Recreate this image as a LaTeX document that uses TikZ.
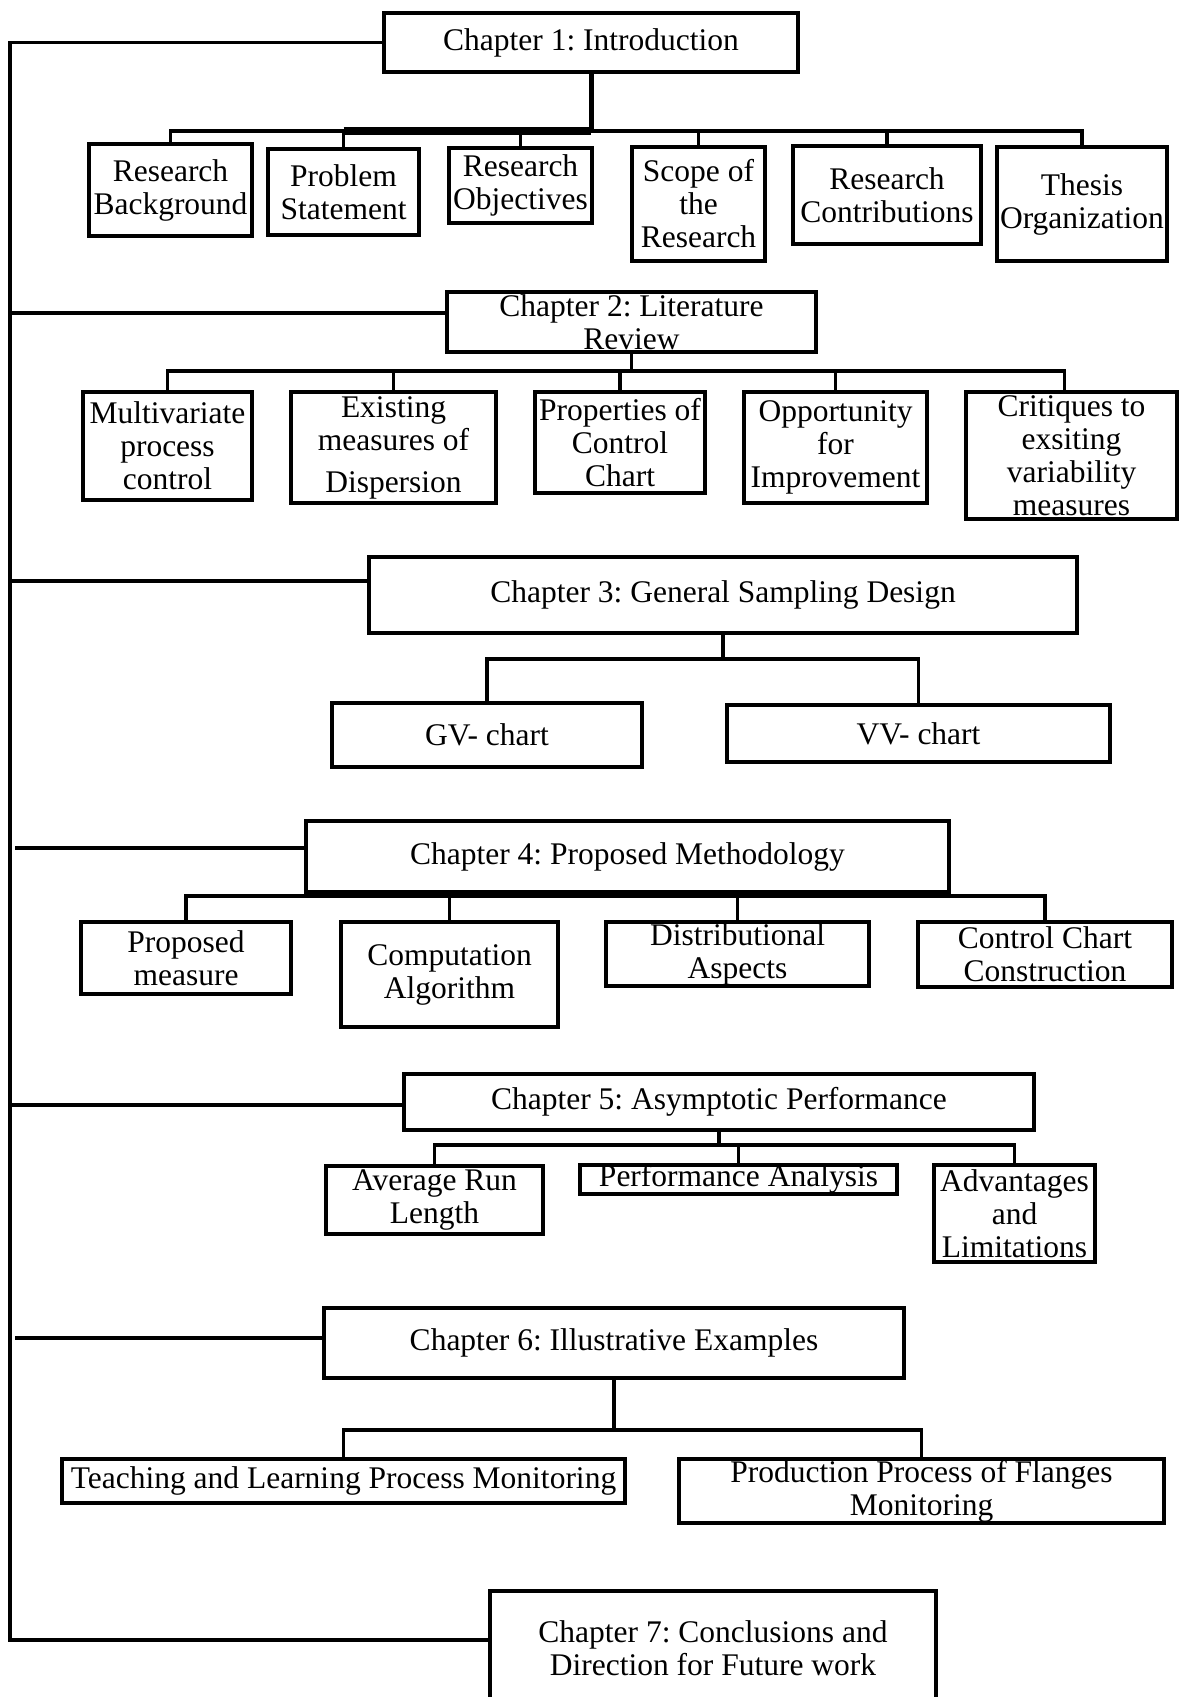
\documentclass[tikz,border=0pt]{standalone}
\usepackage{fontspec}
\setmainfont{Liberation Serif}
\frenchspacing
\begin{document}
\begin{tikzpicture}[x=1pt,y=-1pt,
  box/.style={draw, line width=4pt, inner sep=0pt, outer sep=0pt, align=center,
    font=\fontsize{31.5}{33}\selectfont},
  conn/.style={line width=3.5pt}]
\useasboundingbox (0,0) rectangle (1180,1697);
\clip (0,0) rectangle (1180,1697);
\fill[white] (0,0) rectangle (1180,1697);

% Chapter 1
\node[box, minimum width=414pt, minimum height=59pt] (ch1) at (591,42.5) {Chapter 1: Introduction};
\node[box, minimum width=163pt, minimum height=92pt] (c11) at (170.5,190) {Research\\Background};
\node[box, minimum width=151pt, minimum height=86pt] (c12) at (343.5,192) {Problem\\Statement};
\node[box, minimum width=143pt, minimum height=75pt] (c13) at (520.5,185.5) {Research\\Objectives};
\node[box, minimum width=133pt, minimum height=114pt] (c14) at (698.5,204) {Scope of\\the\\Research};
\node[box, minimum width=188pt, minimum height=98pt] (c15) at (887,195) {Research\\Contributions};
\node[box, minimum width=170pt, minimum height=114pt] (c16) at (1082,204) {Thesis\\Organization};

% Chapter 2
\node[box, minimum width=369pt, minimum height=60pt] (ch2) at (631.5,322) {Chapter 2: Literature\\Review};
\node[box, minimum width=169pt, minimum height=108pt] (c21) at (167.5,446) {Multivariate\\process\\control};
\node[box, minimum width=205pt, minimum height=111pt] (c22) at (393.5,447.5) {Existing\\measures of\\[9pt]Dispersion};
\node[box, minimum width=170pt, minimum height=101pt] (c23) at (620,442.5) {Properties of\\Control\\Chart};
\node[box, minimum width=183pt, minimum height=111pt] (c24) at (835.5,447.5) {Opportunity\\for\\Improvement};
\node[box, minimum width=211pt, minimum height=127pt] (c25) at (1071.5,455.5) {Critiques to\\exsiting\\variability\\measures};

% Chapter 3
\node[box, minimum width=708pt, minimum height=76pt] (ch3) at (723,595) {Chapter 3: General Sampling Design};
\node[box, minimum width=310pt, minimum height=64pt] (c31) at (487,735) {GV- chart};
\node[box, minimum width=383pt, minimum height=57pt] (c32) at (918.5,733.5) {VV- chart};

% Chapter 4
\node[box, minimum width=643pt, minimum height=71pt] (ch4) at (627.5,856.5) {Chapter 4: Proposed Methodology};
\node[box, minimum width=210pt, minimum height=72pt] (c41) at (186,958) {Proposed\\measure};
\node[box, minimum width=217pt, minimum height=105pt] (c42) at (449.5,974.5) {Computation\\Algorithm};
\node[box, minimum width=263pt, minimum height=64pt] (c43) at (737.5,954) {Distributional\\Aspects};
\node[box, minimum width=254pt, minimum height=65pt] (c44) at (1045,954.5) {Control Chart\\Construction};

% Chapter 5
\node[box, minimum width=630pt, minimum height=56pt] (ch5) at (719,1102) {Chapter 5: Asymptotic Performance};
\node[box, minimum width=217pt, minimum height=68pt] (c51) at (434.5,1200) {Average Run\\Length};
\node[box, minimum width=317pt, minimum height=28pt] (c52) at (738.5,1179) {Performance Analysis};
\node[box, minimum width=161pt, minimum height=97pt] (c53) at (1014.5,1213.5) {Advantages\\and\\Limitations};

% Chapter 6
\node[box, minimum width=580pt, minimum height=70pt] (ch6) at (614,1343) {Chapter 6: Illustrative Examples};
\node[box, minimum width=563pt, minimum height=44pt] (c61) at (343.5,1481) {Teaching and Learning Process Monitoring};
\node[box, minimum width=485pt, minimum height=64pt] (c62) at (921.5,1491) {Production Process of Flanges\\Monitoring};

% Chapter 7
\node[box, minimum width=446pt, minimum height=114pt] (ch7) at (713,1648) {Chapter 7: Conclusions and\\Direction for Future work};

% trunk coordinates
\coordinate (t2) at (10,313);
\coordinate (t3) at (10,581);
\coordinate (t4) at (15,848);
\coordinate (t5) at (10,1105);
\coordinate (t6) at (15,1338);
\coordinate (t7) at (10,1640);

% bus coordinates
\coordinate (b1) at (591,131);
\coordinate (b2) at (631.5,371);
\coordinate (b3) at (723,659);
\coordinate (b4) at (627.5,896);
\coordinate (b5) at (719,1145);
\coordinate (b6) at (614,1430);

% trunk
\draw[conn] (ch1.west) -| (t7) -- (t7 -| ch7.west);
\draw[conn] (t2) -- (t2 -| ch2.west);
\draw[conn] (t3) -- (t3 -| ch3.west);
\draw[conn] (t4) -- (t4 -| ch4.west);
\draw[conn] (t5) -- (t5 -| ch5.west);
\draw[conn] (t6) -- (t6 -| ch6.west);

% chapter 1 tree
\draw[conn, line width=5pt] (ch1.south) -- (b1);
\draw[conn] (c11.north) |- (b1);
\draw[conn] (c16.north) |- (b1);
\draw[line width=8pt] (c12.north |- b1) -- (b1);
\foreach \n in {c12,c13,c14,c15} \draw[conn] (\n.north) -- (\n.north |- b1);

% chapter 2 tree
\draw[conn] (ch2.south) -- (b2);
\draw[conn] (c21.north) |- (b2);
\draw[conn] ([xshift=-7pt]c25.north) |- (b2);
\foreach \n in {c22,c23,c24} \draw[conn] (\n.north) -- (\n.north |- b2);

% chapter 3 tree
\draw[conn] (ch3.south) -- (b3);
\draw[conn] (c31.north) |- (b3);
\draw[conn] (c32.north) |- (b3);

% chapter 4 tree
\draw[conn] (ch4.south) -- (b4);
\draw[conn] (c41.north) |- (b4);
\draw[conn] (c44.north) |- (b4);
\foreach \n in {c42,c43} \draw[conn] (\n.north) -- (\n.north |- b4);

% chapter 5 tree
\draw[conn] (ch5.south) -- (b5);
\draw[conn] (c51.north) |- (b5);
\draw[conn] (c53.north) |- (b5);
\draw[conn] (c52.north) -- (c52.north |- b5);

% chapter 6 tree
\draw[conn] (ch6.south) -- (b6);
\draw[conn] (c61.north) |- (b6);
\draw[conn] (c62.north) |- (b6);
\end{tikzpicture}
\end{document}
